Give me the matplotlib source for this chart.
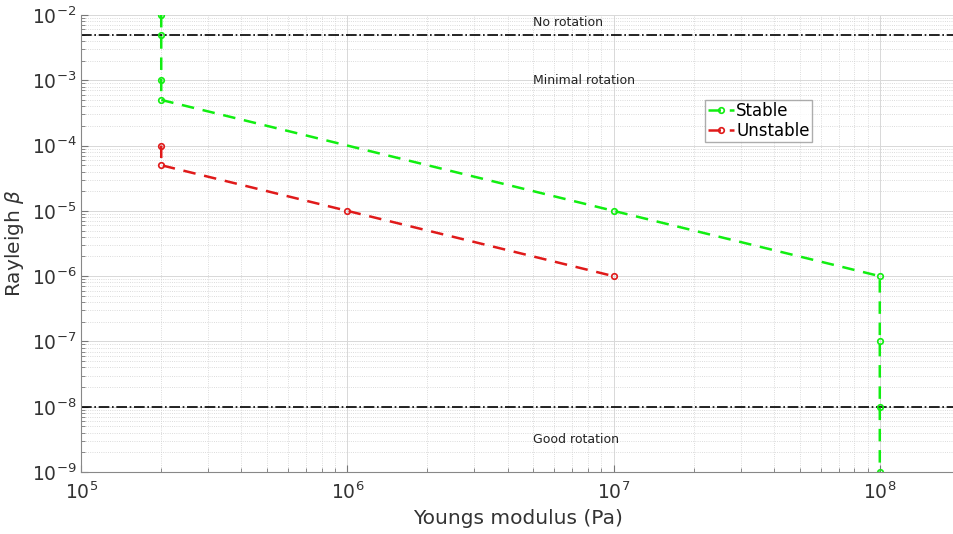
import matplotlib
matplotlib.use("Agg")
import matplotlib.pyplot as plt

# Stable / unstable parameter combinations
stable_E = [2e5, 2e5, 2e5, 2e5, 1e7, 1e8, 1e8, 1e8, 1e8]
stable_beta = [1e-2, 5e-3, 1e-3, 5e-4, 1e-5, 1e-6, 1e-7, 1e-8, 1e-9]
unstable_E = [2e5, 2e5, 1e6, 1e7]
unstable_beta = [1e-4, 5e-5, 1e-5, 1e-6]

# Threshold lines and region labels
thresholds = [5e-3, 1e-8]
region_labels = ["No rotation", "Minimal rotation", "Good rotation"]
region_x = [5e6, 5e6, 5e6]
region_y = [7.6e-3, 1e-3, 3.1e-9]

fig = plt.figure(figsize=(9.54, 5.34), dpi=100)
ax = fig.add_axes([0.085, 0.116, 0.915, 0.856])

ax.set_xscale("log")
ax.set_yscale("log")
ax.set_xlim(1e5, 1.9e8)
ax.set_ylim(1e-9, 1e-2)

ax.grid(True, which="major", color="#d8d8d8", linewidth=0.7, linestyle="-")
ax.grid(True, which="minor", color="#d0d0d0", linewidth=0.6, linestyle=":")
ax.set_axisbelow(True)

for t in thresholds:
    ax.axhline(t, color="black", linestyle="-.", linewidth=1.2)

line_style = dict(linestyle="--", dashes=(5, 3.5), linewidth=1.8, marker="o",
                  markersize=4, markerfacecolor="none", markeredgewidth=1.2)
ax.plot(stable_E, stable_beta, color="#11ee11", label="Stable", **line_style)
ax.plot(unstable_E, unstable_beta, color="#e01a1a", label="Unstable", **line_style)

for lab, x, y in zip(region_labels, region_x, region_y):
    ax.text(x, y, lab, fontsize=9, ha="left", va="center", color="#222222")

ax.set_xlabel("Youngs modulus (Pa)", fontsize=14.5, color="#333333")
ax.set_ylabel(r"Rayleigh $\beta$", fontsize=14.5, color="#333333")
ax.tick_params(which="both", direction="in", labelsize=13.5, colors="#777777",
               labelcolor="#333333")
ax.tick_params(axis="x", which="major", pad=7)
ax.tick_params(which="major", length=5)
ax.tick_params(which="minor", length=3)
for s in ["top", "right"]:
    ax.spines[s].set_visible(False)
for s in ["left", "bottom"]:
    ax.spines[s].set_color("#888888")

leg = ax.legend(loc="upper left", bbox_to_anchor=(0.715, 0.815), fontsize=12,
                frameon=True, fancybox=False, edgecolor="#999999",
                handlelength=1.6, handletextpad=0.1, borderpad=0.15,
                labelspacing=0.1, borderaxespad=0)

fig.savefig("out.png", dpi=100)
